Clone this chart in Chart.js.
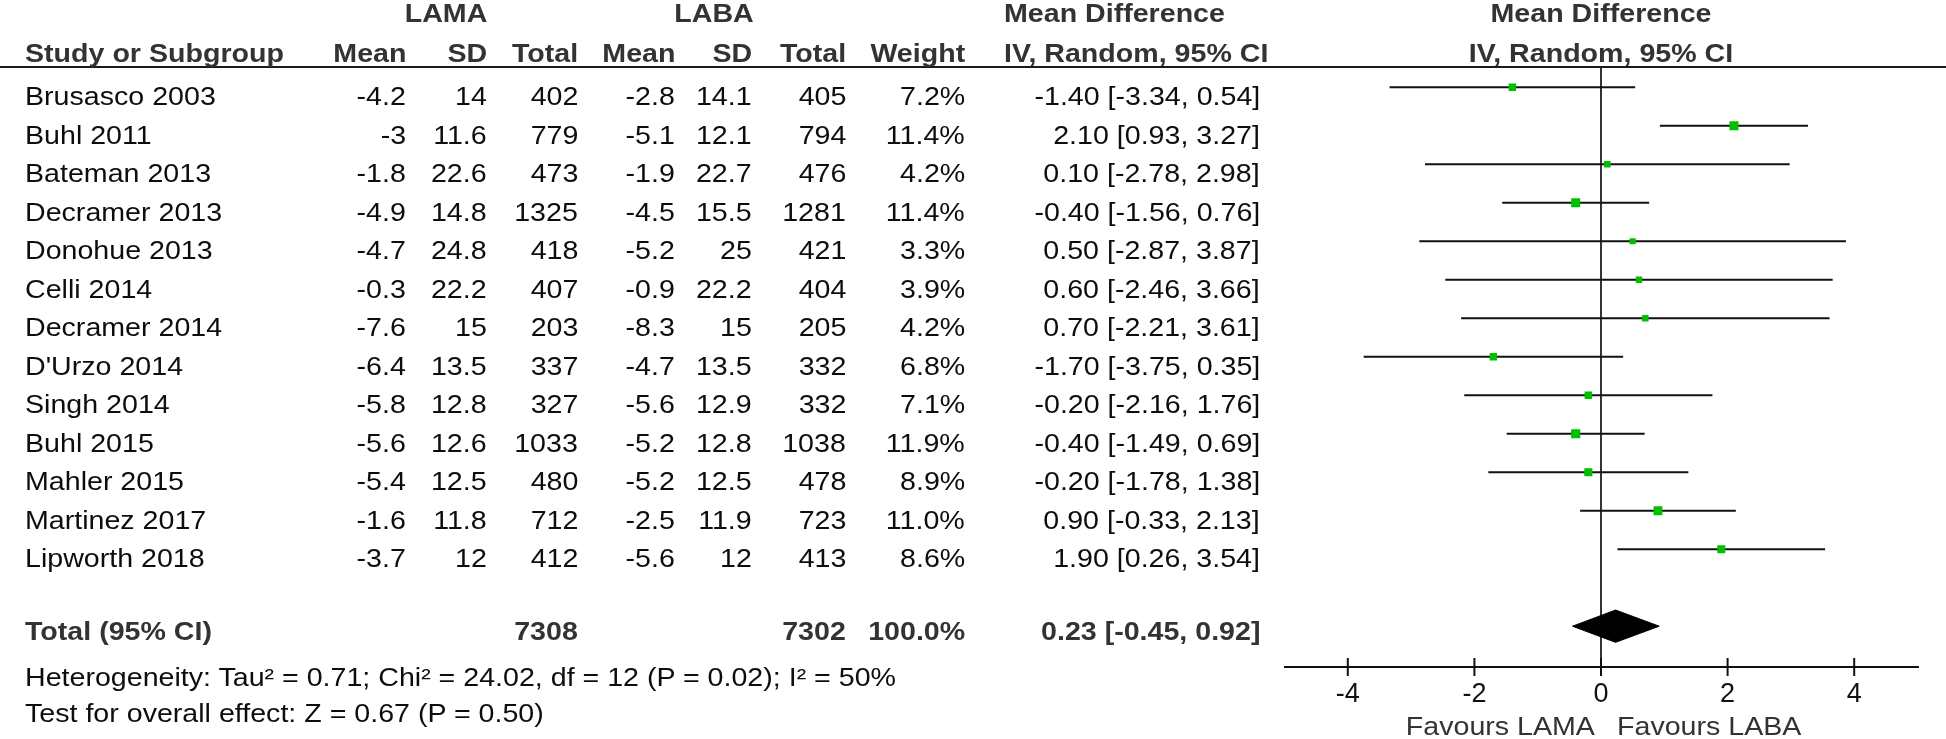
<!DOCTYPE html>
<html>
<head>
<meta charset="utf-8">
<script src="https://cdn.jsdelivr.net/npm/chart.js@4.4.1/dist/chart.umd.min.js"></script>
<style>
  html, body { margin: 0; padding: 0; background: #fff; }
  #wrap { position: relative; width: 1946px; height: 739px; overflow: hidden; font-family: "Liberation Sans", Arial, sans-serif; }
  #wrap canvas { position: absolute; left: 0; top: 0; }
  .t { position: absolute; font-size: 26px; line-height: 26px; white-space: nowrap; color: #0d0d0d; }
  .b { font-weight: bold; color: #333; }
  .l { transform-origin: left center; transform: scaleX(1.1); }
  .r { transform-origin: right center; transform: scaleX(1.1); }
  .c { transform-origin: center center; transform: scaleX(1.1); text-align: center; width: 600px; }
  #rule { position: absolute; left: 0; right: 0; top: 66px; height: 2px; background: #1a1a1a; }
</style>
</head>
<body>
<div id="wrap">
  <canvas id="forest" width="1946" height="739"></canvas>
  <div id="rule"></div>
</div>
<script>
// data
const studies = ['Brusasco 2003', 'Buhl 2011', 'Bateman 2013', 'Decramer 2013', 'Donohue 2013', 'Celli 2014',
  'Decramer 2014', "D'Urzo 2014", 'Singh 2014', 'Buhl 2015', 'Mahler 2015', 'Martinez 2017', 'Lipworth 2018'];
const lamaMean = [-4.2, -3, -1.8, -4.9, -4.7, -0.3, -7.6, -6.4, -5.8, -5.6, -5.4, -1.6, -3.7];
const lamaSD = [14, 11.6, 22.6, 14.8, 24.8, 22.2, 15, 13.5, 12.8, 12.6, 12.5, 11.8, 12];
const lamaTotal = [402, 779, 473, 1325, 418, 407, 203, 337, 327, 1033, 480, 712, 412];
const labaMean = [-2.8, -5.1, -1.9, -4.5, -5.2, -0.9, -8.3, -4.7, -5.6, -5.2, -5.2, -2.5, -5.6];
const labaSD = [14.1, 12.1, 22.7, 15.5, 25, 22.2, 15, 13.5, 12.9, 12.8, 12.5, 11.9, 12];
const labaTotal = [405, 794, 476, 1281, 421, 404, 205, 332, 332, 1038, 478, 723, 413];
const weight = [7.2, 11.4, 4.2, 11.4, 3.3, 3.9, 4.2, 6.8, 7.1, 11.9, 8.9, 11.0, 8.6];
const md = [-1.40, 2.10, 0.10, -0.40, 0.50, 0.60, 0.70, -1.70, -0.20, -0.40, -0.20, 0.90, 1.90];
const ciLow = [-3.34, 0.93, -2.78, -1.56, -2.87, -2.46, -2.21, -3.75, -2.16, -1.49, -1.78, -0.33, 0.26];
const ciHigh = [0.54, 3.27, 2.98, 0.76, 3.87, 3.66, 3.61, 0.35, 1.76, 0.69, 1.38, 2.13, 3.54];

const totalLama = 7308;
const totalLaba = 7302;
const totalMd = 0.23;
const totalLow = -0.45;
const totalHigh = 0.92;

const tickVals = [-4, -2, 0, 2, 4];

const heterogeneity = 'Heterogeneity: Tau² = 0.71; Chi² = 24.02, df = 12 (P = 0.02); I² = 50%';
const overallTest = 'Test for overall effect: Z = 0.67 (P = 0.50)';

const rowY = studies.map((s, i) => i + 1);
const totalY = 15;
const FONT = 'Liberation Sans';

// CI whiskers, one small line per study
const ciSets = studies.map((s, i) => ({
  label: s,
  showLine: true,
  data: [{ x: ciLow[i], y: rowY[i] }, { x: ciHigh[i], y: rowY[i] }],
  borderColor: '#111',
  borderWidth: 2,
  pointRadius: 0,
  order: 2
}));

// square side grows with the study weight
const squareR = ctx => (5 + 0.35 * weight[ctx.dataIndex]) / Math.SQRT2;

const squares = {
  label: 'MD',
  data: md.map((v, i) => ({ x: v, y: rowY[i] })),
  pointStyle: 'rect',
  pointRadius: squareR,
  pointHoverRadius: squareR,
  backgroundColor: '#00c000',
  borderWidth: 0,
  order: 1
};

const diamond = {
  label: 'Total',
  showLine: true,
  data: [
    { x: totalLow, y: totalY },
    { x: totalMd, y: totalY - 0.42 },
    { x: totalHigh, y: totalY },
    { x: totalMd, y: totalY + 0.42 },
    { x: totalLow, y: totalY }
  ],
  borderColor: '#000',
  backgroundColor: '#000',
  borderWidth: 1,
  pointRadius: 0,
  fill: 'shape',
  order: 0
};

// ticks cross the axis line (above and below)
const crossTicks = {
  id: 'crossTicks',
  afterDatasetsDraw(chart) {
    const { ctx, scales: { x } } = chart;
    const y0 = chart.chartArea.bottom;
    ctx.save();
    ctx.strokeStyle = '#111';
    ctx.lineWidth = 2;
    x.ticks.forEach(t => {
      const px = x.getPixelForValue(t.value);
      ctx.beginPath();
      ctx.moveTo(px, y0 - 9);
      ctx.lineTo(px, y0 + 9);
      ctx.stroke();
    });
    ctx.restore();
  }
};

const chart = new Chart(document.getElementById('forest'), {
  type: 'scatter',
  data: { datasets: [...ciSets, squares, diamond] },
  options: {
    responsive: false,
    animation: false,
    layout: { padding: { left: 1284.5, right: 28.5, top: 68, bottom: 0 } },
    plugins: { legend: { display: false }, tooltip: { enabled: false } },
    scales: {
      x: {
        type: 'linear',
        min: -5,
        max: 5,
        afterBuildTicks: s => { s.ticks = tickVals.map(v => ({ value: v })); },
        afterFit: s => { s.height = 72; },
        border: { display: true, color: '#111', width: 2 },
        grid: {
          drawTicks: false,
          drawOnChartArea: true,
          lineWidth: 2,
          color: ctx => (ctx.tick && ctx.tick.value === 0 ? '#333' : 'rgba(0,0,0,0)')
        },
        ticks: {
          font: { family: FONT, size: 27 },
          color: '#111',
          padding: 11,
          callback: v => String(v)
        }
      },
      y: { type: 'linear', display: false, reverse: true, min: 0.5, max: 16.06 }
    }
  },
  plugins: [crossTicks]
});

// table text
const wrap = document.getElementById('wrap');
function put(text, x, base, align, bold) {
  const el = document.createElement('div');
  el.className = 't ' + align + (bold ? ' b' : '');
  el.textContent = text;
  el.style.top = (base - 22) + 'px';
  if (align === 'l') el.style.left = x + 'px';
  else if (align === 'r') el.style.right = (1946 - x) + 'px';
  else el.style.left = (x - 300) + 'px';
  wrap.appendChild(el);
  return el;
}

const colName = 25, colMean1 = 406, colSD1 = 487, colTot1 = 578;
const colMean2 = 675, colSD2 = 752, colTot2 = 846, colW = 965, colMD = 1260, colMDhead = 1004;
const zeroX = chart.scales.x.getPixelForValue(0);

put('LAMA', 446, 22, 'c', true);
put('LABA', 714, 22, 'c', true);
put('Mean Difference', colMDhead, 22, 'l', true);
put('Mean Difference', zeroX, 22, 'c', true);

put('Study or Subgroup', colName, 62, 'l', true);
put('Mean', colMean1, 62, 'r', true);
put('SD', colSD1, 62, 'r', true);
put('Total', colTot1, 62, 'r', true);
put('Mean', colMean2, 62, 'r', true);
put('SD', colSD2, 62, 'r', true);
put('Total', colTot2, 62, 'r', true);
put('Weight', colW, 62, 'r', true);
put('IV, Random, 95% CI', colMDhead, 62, 'l', true);
put('IV, Random, 95% CI', zeroX, 62, 'c', true);

const yS = chart.scales.y;
studies.forEach((s, i) => {
  const base = yS.getPixelForValue(rowY[i]) + 18;
  put(s, colName, base, 'l');
  put(String(lamaMean[i]), colMean1, base, 'r');
  put(String(lamaSD[i]), colSD1, base, 'r');
  put(String(lamaTotal[i]), colTot1, base, 'r');
  put(String(labaMean[i]), colMean2, base, 'r');
  put(String(labaSD[i]), colSD2, base, 'r');
  put(String(labaTotal[i]), colTot2, base, 'r');
  put(weight[i].toFixed(1) + '%', colW, base, 'r');
  put(md[i].toFixed(2) + ' [' + ciLow[i].toFixed(2) + ', ' + ciHigh[i].toFixed(2) + ']', colMD, base, 'r');
});

const totBase = yS.getPixelForValue(totalY) + 14;
put('Total (95% CI)', colName, totBase, 'l', true);
put(String(totalLama), colTot1, totBase, 'r', true);
put(String(totalLaba), colTot2, totBase, 'r', true);
put('100.0%', colW, totBase, 'r', true);
put(totalMd.toFixed(2) + ' [' + totalLow.toFixed(2) + ', ' + totalHigh.toFixed(2) + ']', colMD, totBase, 'r', true);

put(heterogeneity, colName, 686, 'l');
put(overallTest, colName, 722, 'l');

put('Favours LAMA', zeroX - 6, 735, 'r').style.color = '#333';
put('Favours LABA', zeroX + 16, 735, 'l').style.color = '#333';
</script>
</body>
</html>
